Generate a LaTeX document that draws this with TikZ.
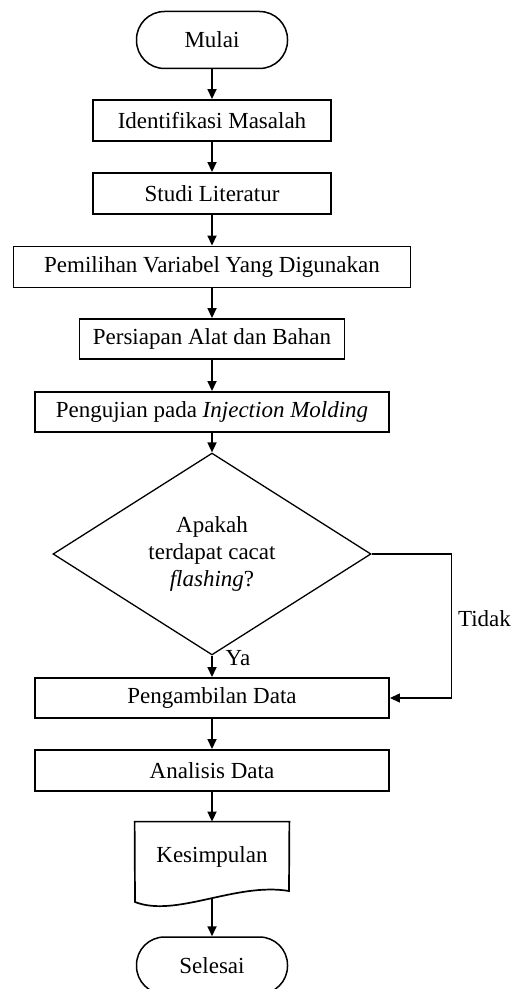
\documentclass[tikz,border=0pt]{standalone}
\usepackage{fontspec}
\setmainfont{Liberation Serif}
\usetikzlibrary{shapes.geometric, arrows.meta}

\begin{document}
\begin{tikzpicture}[x=0.5pt, y=-0.5pt, font=\fontsize{11.5}{13.5}\selectfont,
  proses/.style={draw, line width=0.95pt, minimum height=20.5pt, inner sep=0pt},
  terminal/.style={draw, line width=0.75pt, rounded corners=14pt, minimum width=75.5pt, minimum height=28.5pt},
  keputusan/.style={draw, diamond, line width=0.65pt, minimum width=159pt, minimum height=91pt, inner sep=0pt, align=center},
  panah/.style={line width=0.85pt, -{Triangle[length=5pt, width=4.5pt]}}]
  \useasboundingbox (0,0) rectangle (511,989);

  \node[terminal] (mulai) at (212,40) {Mulai};
  \node[proses, minimum width=119pt] (identifikasi) at (212,120.5) {Identifikasi Masalah};
  \node[proses, minimum width=119pt] (studi) at (212,193.5) {Studi Literatur};
  \node[proses, minimum width=198.5pt] (pemilihan) at (212,267) {Pemilihan Variabel Yang Digunakan};
  \node[proses, minimum width=132.5pt, minimum height=20pt] (persiapan) at (212,339) {Persiapan Alat dan Bahan};
  \node[proses, minimum width=177pt, minimum height=20pt] (pengujian) at (212,412) {Pengujian pada \textit{Injection Molding}};
  \node[keputusan] (cacat) at (212,554) {Apakah\\terdapat cacat\\\textit{flashing}?};
  \node[proses, minimum width=177pt, minimum height=20pt] (ambil) at (212,698) {Pengambilan Data};
  \node[proses, minimum width=177pt] (analisis) at (212,770.5) {Analisis Data};
  \node[minimum width=77pt, minimum height=35pt] (kes) at (212,857) {Kesimpulan};
  \node[terminal] (selesai) at (212,965.5) {Selesai};

  \coordinate (kesR) at (289,891);
  \coordinate (kesL) at (135,902);
  \coordinate (kesB) at (212,899);
  \draw[line width=0.85pt] (kes.north west) -- (kes.north east) -- (kesR)
    .. controls (236,882) and (176,918) .. (kesL) -- cycle;

  \draw[panah] (mulai) -- (identifikasi);
  \draw[panah] (identifikasi) -- (studi);
  \draw[panah] (studi) -- (pemilihan);
  \draw[panah] (pemilihan) -- (persiapan);
  \draw[panah] (persiapan) -- (pengujian);
  \draw[panah] (pengujian) -- (cacat);
  \draw[panah] (cacat) -- (ambil);
  \draw[panah, line width=0.65pt] (cacat.east) -- ++(80,0) |- (ambil.east);
  \draw[panah] (ambil) -- (analisis);
  \draw[panah] (analisis) -- (kes.north);
  \draw[panah] (kesB) -- (selesai);

  \node (ya) at (238,658) {Ya};
  \node[anchor=west] (tidak) at (451,619) {Tidak};
\end{tikzpicture}
\end{document}
